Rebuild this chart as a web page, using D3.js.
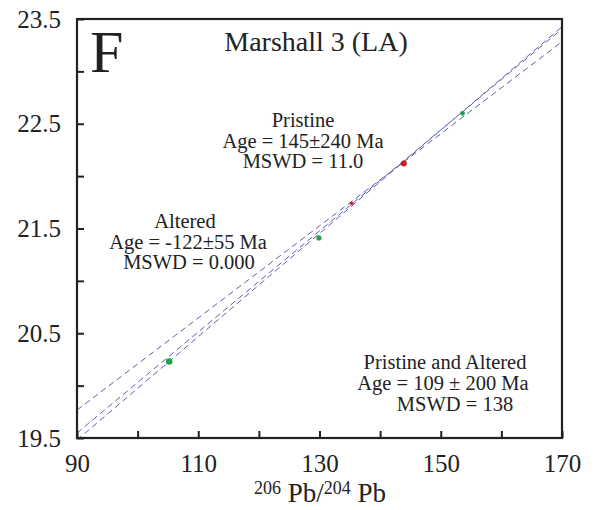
<!DOCTYPE html>
<html><head><meta charset="utf-8">
<script src="https://cdn.jsdelivr.net/npm/d3@7/dist/d3.min.js"></script>
<style>
html,body{margin:0;padding:0;background:#fff;}
text{font-family:"Liberation Serif","Times New Roman",serif;fill:#222;}
</style></head>
<body><svg id="c" width="596" height="510"></svg>
<script>
// ---- data ----
const xTicks = [90,100,110,120,130,140,150,160,170];
const xTickLabels = ["90","","110","","130","","150","","170"];
const yTicks = [19.5,20.0,20.5,21.0,21.5,22.0,22.5,23.0,23.5];
const yTickLabels = ["19.5","","20.5","","21.5","","22.5","","23.5"];

const alteredX = [105.2, 129.9, 153.6];
const alteredY = [20.23, 21.41, 22.60];
const alteredR = [3.3, 2.6, 2.4];
const pristineX = [135.3, 143.9];
const pristineY = [21.74, 22.12];
const pristineR = [1.8, 3.0];

// isochron lines: y at x=90 and x=170
const lineNames = ["Pristine and Altered","Pristine","Altered"];
const lineY90 = [19.767, 19.548, 19.481];
const lineY170 = [23.283, 23.405, 23.425];

// ---- layout ----
const svg = d3.select("#c");
const L = 77, R = 562, T = 19, B = 438;
const x = d3.scaleLinear().domain([90,170]).range([L,R]);
const y = d3.scaleLinear().domain([19.5,23.5]).range([B,T]);

svg.append("defs").append("clipPath").attr("id","clip")
  .append("rect").attr("x",L).attr("y",T).attr("width",R-L).attr("height",B-T);

// lines
const g = svg.append("g").attr("clip-path","url(#clip)");
lineNames.forEach((n,i)=>{
  g.append("line")
   .attr("x1",x(90)).attr("y1",y(lineY90[i]))
   .attr("x2",x(170)).attr("y2",y(lineY170[i]))
   .attr("stroke","#5b5fb0").attr("stroke-width",1)
   .attr("stroke-dasharray","6,4");
});

// points
g.selectAll(".alt").data(alteredX).enter().append("circle")
  .attr("cx",d=>x(d)).attr("cy",(d,i)=>y(alteredY[i])).attr("r",(d,i)=>alteredR[i])
  .attr("fill","#23a04a");
g.selectAll(".pri").data(pristineX).enter().append("circle")
  .attr("cx",d=>x(d)).attr("cy",(d,i)=>y(pristineY[i])).attr("r",(d,i)=>pristineR[i])
  .attr("fill","#d01c1c");

// axes
const xa = svg.append("g").attr("transform",`translate(0,${B})`)
  .call(d3.axisBottom(x).tickValues(xTicks).tickFormat((d,i)=>xTickLabels[i])
        .tickSizeInner(-7).tickSizeOuter(0).tickPadding(16));
const ya = svg.append("g").attr("transform",`translate(${L},0)`)
  .call(d3.axisLeft(y).tickValues(yTicks).tickFormat((d,i)=>yTickLabels[i])
        .tickSizeInner(-7).tickSizeOuter(0).tickPadding(16));
[xa,ya].forEach(a=>{
  a.select(".domain").remove();
  a.selectAll(".tick line").attr("stroke","#222").attr("stroke-width",2);
  a.selectAll(".tick text").attr("font-family","Liberation Serif, serif")
   .attr("font-size",25).attr("fill","#222");
});

// frame
svg.append("rect").attr("x",L).attr("y",T).attr("width",R-L).attr("height",B-T)
  .attr("fill","none").attr("stroke","#222").attr("stroke-width",2.2);

// texts
svg.append("text").attr("x",90).attr("y",72).attr("font-size",60).text("F");
svg.append("text").attr("x",316).attr("y",51).attr("font-size",28)
  .attr("text-anchor","middle").text("Marshall 3 (LA)");

function block(cx, lines, y0, fs, gap, dxs){
  lines.forEach((t,i)=>{
    svg.append("text").attr("x",cx+(dxs?dxs[i]:0)).attr("y",y0+i*gap)
      .attr("font-size",fs).attr("text-anchor","middle").text(t);
  });
}
block(303, ["Pristine","Age = 145±240 Ma","MSWD = 11.0"], 127, 20.5, 20.5);
block(188, ["Altered","Age = -122±55 Ma","MSWD = 0.000"], 228, 20.5, 20.5, [-3,0,1]);
block(445, ["Pristine and Altered","Age = 109 ± 200 Ma","MSWD = 138"], 369, 20.5, 21, [0,-2,10]);

// x axis title
const xt = svg.append("text").attr("x",320).attr("y",502).attr("font-size",27)
  .attr("text-anchor","middle");
xt.append("tspan").attr("font-size",18).attr("dy",-8).text("206");
xt.append("tspan").attr("dy",8).text(" Pb/");
xt.append("tspan").attr("font-size",18).attr("dy",-8).text("204");
xt.append("tspan").attr("dy",8).text(" Pb");
</script></body></html>
